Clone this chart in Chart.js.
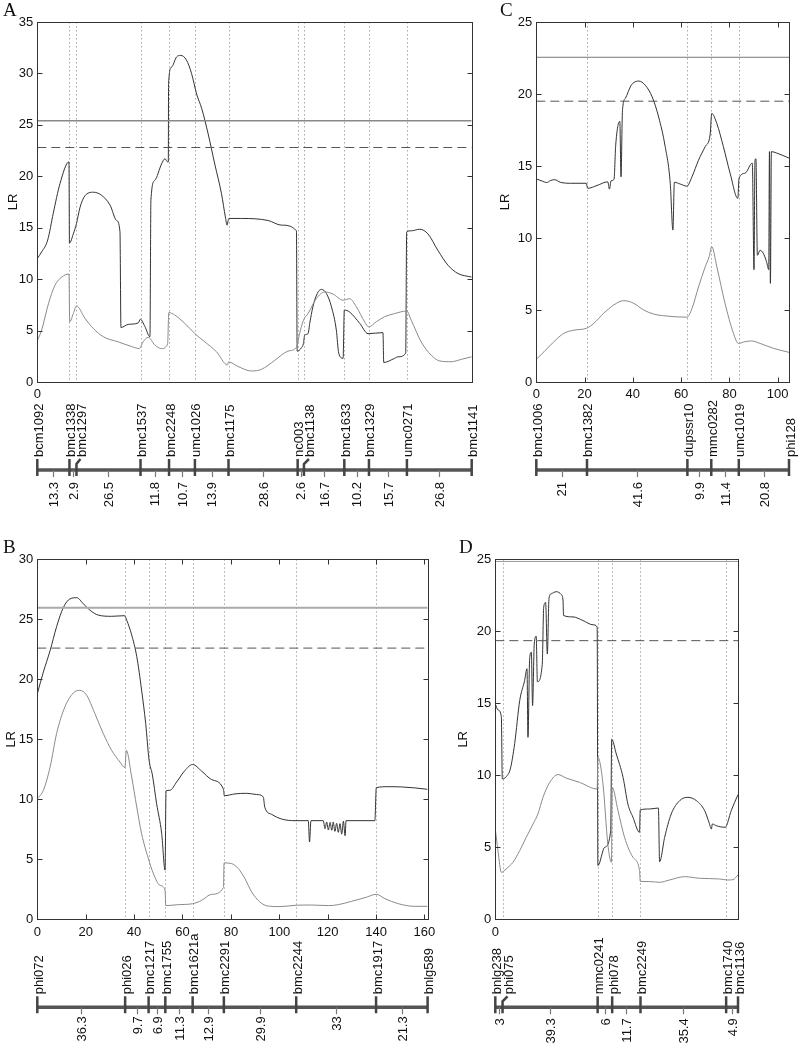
<!DOCTYPE html>
<html>
<head>
<meta charset="utf-8">
<script src="https://cdn.jsdelivr.net/npm/chart.js@4.4.0/dist/chart.umd.min.js"></script>
<style>
  body { margin: 0; background: #fff; width: 800px; height: 1047px; position: relative; overflow: hidden; }
  canvas { position: absolute; }
</style>
</head>
<body>
<canvas id="chartA" width="490" height="510" style="left:0;top:0"></canvas>
<canvas id="chartC" width="310" height="510" style="left:490px;top:0"></canvas>
<canvas id="chartB" width="445" height="510" style="left:0;top:537px"></canvas>
<canvas id="chartD" width="355" height="510" style="left:445px;top:537px"></canvas>
<script>
// --- data: markers, map distances (cM), LR profiles, thresholds [solid, dashed] ---
const markersA = ['bcm1092', 'bmc1338', 'bmc1297', 'bmc1537', 'bmc2248', 'umc1026', 'bmc1175', 'nc003', 'bmc1138', 'bmc1633', 'bmc1329', 'umc0271', 'bmc1141'];
const distA = [13.3, 2.9, 26.5, 11.8, 10.7, 13.9, 28.6, 2.6, 16.7, 10.2, 15.7, 26.8];
const lrA1 = [[0,12.0],[1.8,12.65],[4.3,13.8],[6.6,16.4],[9.4,19.3],[13.1,21.4],[13.3,13.5],[14.9,14.4],[16.2,15.4],[17.7,17.0],[19.7,18.1],[23.2,18.45],[26.6,18.15],[30.1,17.2],[32.8,15.7],[34.2,14.6],[34.6,5.3],[37.6,5.6],[41.8,5.75],[42.6,6.1],[44.5,5.4],[46.6,4.4],[47.0,17.7],[48.6,19.6],[51.4,21.2],[52.8,21.7],[53.9,21.4],[54.2,21.4],[54.3,29.0],[55.5,30.6],[57.6,31.6],[59.3,31.75],[61.7,31.3],[63.8,30.0],[65.9,28.0],[68.0,26.6],[70.7,24.1],[73.4,21.2],[76.2,18.3],[77.8,16.05],[78.5,15.25],[79.2,15.9],[84.5,15.9],[95.5,15.7],[101,15.25],[107.2,14.7],[107.5,3.0],[109.2,3.3],[110.1,3.75],[110.6,4.55],[112,4.7],[112.7,5.7],[114,7.3],[115.8,8.6],[117.5,9.0],[119.6,8.6],[121.7,7.3],[123.7,5.05],[124.7,2.8],[126.5,2.3],[127,7.0],[129.2,6.8],[133.4,5.7],[136.8,4.7],[143,4.8],[143.3,1.9],[147.8,2.3],[149.2,2.45],[152.4,2.8],[152.8,14.6],[154.7,14.7],[158.2,14.85],[161.6,14.4],[165.7,12.8],[169.9,11.35],[174,10.55],[179.7,10.2]];
const lrA2 = [[0,4.0],[1.8,5.05],[4.6,7.6],[7.3,9.4],[10.1,10.2],[13.1,10.5],[13.4,5.85],[14.9,6.65],[16.2,7.4],[19.7,6.2],[23.2,5.2],[27.3,4.4],[33.5,3.9],[39,3.45],[42.2,3.25],[43.8,3.9],[45.9,4.35],[48.6,3.6],[51.4,3.25],[53.9,3.7],[54.4,6.75],[56.9,6.5],[61,5.7],[65.2,4.7],[69.3,3.9],[74.1,2.95],[78.7,1.65],[79.1,1.95],[83.1,1.5],[88.6,1.07],[92.7,1.23],[98.2,2.1],[103.7,3.0],[107.3,3.4],[108.5,4.7],[110.1,6.0],[112,6.65],[115.4,8.1],[118.9,8.75],[122.3,8.55],[126.5,7.95],[129.2,8.1],[132,7.3],[135.4,5.85],[137.1,5.35],[140.2,5.85],[143.7,6.35],[147.8,6.65],[152.8,6.9],[154.7,6.0],[158.8,3.9],[163,2.6],[166.4,2.05],[171.2,1.97],[175.4,2.2],[179.7,2.45]];
const thrA = [25.4, 22.8];

const markersC = ['bmc1006', 'bmc1382', 'dupssr10', 'mmc0282', 'umc1019', 'phi128'];
const distC = [21, 41.6, 9.9, 11.4, 20.8];
const lrC1 = [[0,14.1],[2.5,13.95],[4.3,13.85],[6,14.0],[7.6,14.05],[10,13.87],[14.2,13.8],[20.7,13.8],[21.3,13.45],[25.2,13.65],[29.6,13.9],[30.3,13.4],[31,13.98],[32.2,14.07],[32.9,16.45],[34.6,18.1],[35.1,14.25],[35.7,18.85],[36.9,19.7],[39.3,20.6],[42.4,20.9],[45.2,20.6],[48,19.8],[50.7,18.4],[53.4,16.35],[55.5,13.8],[56.6,10.55],[57.2,13.87],[59.6,13.75],[62.4,13.6],[64.5,14.25],[67.2,15.4],[70,16.35],[72,17.15],[72.7,18.65],[74.8,17.95],[77.5,16.35],[80.3,14.5],[83.5,12.75],[84,14.15],[86.5,14.5],[89.5,15.2],[90.2,7.8],[90.6,15.4],[91,15.5],[91.6,8.8],[92.7,9.15],[94,8.95],[95.4,8.35],[96.3,7.8],[96.6,16.0],[97.0,6.85],[97.4,16.0],[99.6,15.9],[104.7,15.55]];
const lrC2 = [[0,1.57],[3.2,2.1],[7.3,2.8],[11.4,3.38],[15.6,3.6],[20.8,3.73],[23.8,4.07],[27.9,4.77],[32.1,5.35],[36.2,5.65],[40.4,5.46],[44.5,5.0],[48.6,4.72],[54.1,4.58],[62.4,4.5],[64.5,5.1],[67.2,6.6],[70,8.0],[71.6,8.7],[72.7,9.4],[74.8,8.0],[78.2,5.46],[81.7,3.38],[83.7,2.68],[86.5,2.8],[89.3,2.85],[92.7,2.68],[98.2,2.34],[104.7,2.06]];
const thrC = [22.55, 19.5];

const markersB = ['phi072', 'phi026', 'bmc1217', 'bmc1755', 'bmc1621a', 'bmc2291', 'bmc2244', 'bmc1917', 'bnlg589'];
const distB = [36.3, 9.7, 6.9, 11.3, 12.9, 29.9, 33, 21.3];
const lrB1 = [[0,18.8],[2.5,20.6],[5.3,22.4],[8,24.4],[10.8,26.0],[13.5,26.7],[16.3,26.8],[19,26.3],[21.8,25.75],[25.2,25.35],[30.7,25.25],[36,25.3],[37,24.9],[39,23.7],[41.1,21.9],[43.1,19.1],[44.8,16.3],[46.2,13.25],[47.5,12.1],[49.3,9.65],[51.4,7.15],[52.8,4.1],[53.2,10.7],[54.8,10.75],[57.6,11.45],[61,12.4],[64.2,12.9],[67.9,12.35],[72,11.65],[76.9,10.85],[77.3,10.3],[81.7,10.45],[86.5,10.5],[90.6,10.4],[93.4,10.2],[94,9.35],[96.8,8.75],[100.9,8.36],[106.5,8.22],[112,8.22],[112.5,6.45],[113.1,8.22],[118.2,8.22],[118.9,7.55],[119.6,8.11],[120.3,7.44],[121,8.08],[121.7,7.42],[122.3,8.11],[123,7.33],[123.7,8.0],[124.4,7.25],[125.1,7.97],[125.8,7.1],[126.5,8.17],[127.2,6.97],[127.6,8.22],[139.5,8.22],[140.1,10.97],[145,11.05],[150.6,11.03],[156,10.95],[161.3,10.83]];
const lrB2 = [[0,10.05],[2.5,10.75],[5.3,12.7],[8,15.5],[11.4,17.7],[14.9,18.86],[17.6,19.08],[20.4,18.67],[23.8,17.14],[27.3,15.47],[30.7,14.08],[34.2,13.1],[36.2,12.64],[36.8,14.08],[39,11.86],[41.1,9.36],[43.1,7.14],[45.9,5.06],[48,3.8],[50.7,2.83],[52.8,2.42],[53.1,1.14],[58.3,1.22],[64.2,1.3],[67.9,1.58],[72,2.08],[76.9,2.64],[77.2,4.7],[80.3,4.64],[83.1,4.22],[85.8,3.39],[88.6,2.28],[92,1.44],[95.5,1.1],[100.3,1.06],[107,1.17],[113.4,1.19],[120.3,1.14],[124.4,1.22],[129.9,1.5],[135.4,1.8],[140.1,2.08],[143.7,1.72],[149.2,1.3],[156,1.08],[161.3,1.08]];
const thrB = [25.97, 22.6];

const markersD = ['bnlg238', 'phi075', 'mmc0241', 'phi078', 'bmc2249', 'bmc1740', 'bmc1136'];
const distD = [3, 39.3, 6, 11.7, 35.4, 4.9];
const lrD1 = [[0,14.95],[1.1,14.54],[2.5,14.07],[2.9,9.75],[4.5,9.9],[6.2,10.44],[8,12.2],[10.1,15.2],[12.1,16.57],[13.1,17.4],[13.5,12.64],[14.2,18.1],[14.9,18.54],[15.4,14.84],[16.1,19.12],[16.9,19.65],[17.4,16.5],[19.4,17.7],[20,21.67],[20.8,22.0],[21.5,18.43],[22.2,22.3],[23.1,22.6],[25.2,22.75],[27.3,22.55],[28,22.1],[28.2,21.1],[32.1,21.0],[36.2,20.75],[40.4,20.45],[42.1,20.3],[42.4,3.73],[45.2,5.0],[47.7,6.16],[48.1,12.5],[50,11.48],[52.8,9.86],[54.8,8.0],[56.9,7.08],[59.6,6.04],[59.9,7.6],[63.8,7.66],[67.4,7.73],[67.9,4.0],[70,5.7],[72.7,7.31],[76.2,8.24],[79.6,8.47],[83.1,8.24],[86.5,7.55],[88.3,6.74],[89.3,6.27],[89.7,6.62],[91.3,6.5],[95,6.39],[97.5,7.55],[100.3,8.66]];
const lrD2 = [[0,6.27],[1.1,4.77],[2.5,3.26],[4.5,3.5],[7.3,3.96],[10.1,4.77],[12.8,5.7],[15.6,6.62],[17.6,7.31],[19.7,8.47],[22.5,9.51],[25.9,10.05],[29.3,9.81],[34.8,9.51],[42.1,9.05],[42.4,11.25],[44.5,9.4],[46.5,5.23],[48,3.96],[48.3,9.17],[50.7,7.55],[53.4,5.7],[56.9,4.3],[59.6,3.38],[59.9,2.64],[63.8,2.62],[67.9,2.57],[72,2.73],[78.2,2.96],[84.4,2.85],[92.7,2.8],[96.1,2.73],[98.2,2.75],[100.3,3.08]];
const thrD = [24.85, 19.35];

Chart.defaults.font.family = "'Liberation Sans', Arial, sans-serif";
Chart.defaults.font.size = 13;
Chart.defaults.color = '#111';

// marker positions from the map distances
const cum = d => d.reduce((acc, v) => acc.concat(+(acc[acc.length - 1] + v).toFixed(1)), [0]);

// frame, marker guides, panel letter and linkage map under the x axis
const qtlPlugin = {
    id: 'qtl',
    beforeDatasetsDraw(chart, args, o) {
        const { ctx, chartArea: a, scales: { x } } = chart;
        ctx.save();
        ctx.strokeStyle = '#a8a8a8';
        ctx.lineWidth = 1;
        ctx.setLineDash([1.5, 2.5]);
        o.pos.slice(1, -1).forEach(p => {
            const px = Math.round(x.getPixelForValue(p)) + 0.5;
            ctx.beginPath(); ctx.moveTo(px, a.top); ctx.lineTo(px, a.bottom); ctx.stroke();
        });
        ctx.restore();
    },
    afterDatasetsDraw(chart) {
        const { ctx, chartArea: a, scales: { x, y } } = chart;
        ctx.save();
        ctx.strokeStyle = '#333';
        ctx.lineWidth = 1;
        const L = Math.round(a.left) + 0.5, R = Math.round(a.right) + 0.5;
        const T = Math.round(a.top) + 0.5, B = Math.round(a.bottom) + 0.5;
        ctx.strokeRect(L, T, R - L, B - T);
        ctx.beginPath();
        x.ticks.forEach(t => {
            if (t.value % 20 !== 0 || t.value === 0) return;
            const px = Math.round(x.getPixelForValue(t.value)) + 0.5;
            ctx.moveTo(px, T); ctx.lineTo(px, T + 5);
            ctx.moveTo(px, B); ctx.lineTo(px, B - 5);
        });
        y.ticks.forEach(t => {
            if (t.value === 0 || t.value === y.max) return;
            const py = Math.round(y.getPixelForValue(t.value)) + 0.5;
            ctx.moveTo(L, py); ctx.lineTo(L + 5, py);
            ctx.moveTo(R, py); ctx.lineTo(R - 5, py);
        });
        ctx.stroke();
        ctx.restore();
    },
    afterDraw(chart, args, o) {
        const { ctx, chartArea: a, scales: { x } } = chart;
        const ly = a.bottom + 88;
        ctx.save();
        // panel letter
        ctx.fillStyle = '#111';
        ctx.font = "19px 'Liberation Serif', serif";
        ctx.fillText(o.letter, o.lx, 16);
        // map backbone
        ctx.strokeStyle = '#555';
        ctx.lineWidth = 3.5;
        ctx.beginPath();
        ctx.moveTo(x.getPixelForValue(0), ly);
        ctx.lineTo(x.getPixelForValue(o.pos[o.pos.length - 1]), ly);
        ctx.stroke();
        // interval mid ticks
        ctx.strokeStyle = '#777';
        ctx.lineWidth = 1.2;
        ctx.beginPath();
        for (let i = 0; i < o.dist.length; i++) {
            const mx = Math.round(x.getPixelForValue((o.pos[i] + o.pos[i + 1]) / 2)) + 0.5;
            ctx.moveTo(mx, ly); ctx.lineTo(mx, ly + 7);
        }
        ctx.stroke();
        // marker ticks
        ctx.strokeStyle = '#444';
        ctx.lineWidth = 2.5;
        ctx.beginPath();
        o.markers.forEach((m, i) => {
            const px = x.getPixelForValue(o.pos[i]);
            const sh = o.shift[m] || 0;
            ctx.moveTo(px, ly + 6);
            if (sh) { ctx.lineTo(px, ly - 6); ctx.lineTo(px + sh, ly - 11); }
            else ctx.lineTo(px, ly - 11);
        });
        ctx.stroke();
        // labels
        ctx.fillStyle = '#111';
        ctx.font = "13px 'Liberation Sans', Arial, sans-serif";
        ctx.textBaseline = 'alphabetic';
        o.markers.forEach((m, i) => {
            const px = x.getPixelForValue(o.pos[i]) + (o.shift[m] || 0);
            ctx.save();
            ctx.translate(px + 5.5, ly - 13);
            ctx.rotate(-Math.PI / 2);
            ctx.textAlign = 'left';
            ctx.fillText(m, 0, 0);
            ctx.restore();
        });
        o.dist.forEach((d, i) => {
            const mx = x.getPixelForValue((o.pos[i] + o.pos[i + 1]) / 2);
            ctx.save();
            ctx.translate(mx + 4.7, ly + o.gap);
            ctx.rotate(-Math.PI / 2);
            ctx.textAlign = 'right';
            ctx.fillText(String(d), 0, 0);
            ctx.restore();
        });
        ctx.restore();
    }
};

function curve(pts, color) {
    return { data: pts, showLine: true, borderColor: color, borderWidth: 1, pointRadius: 0, cubicInterpolationMode: 'monotone' };
}
function level(v, xMax, color, dash, w) {
    return { data: [[0, v], [xMax, v]], showLine: true, borderColor: color, borderWidth: w, borderDash: dash, pointRadius: 0 };
}

function panel(id, p) {
    const pos = cum(p.dist);
    const xMax = pos[pos.length - 1];
    const canvas = document.getElementById(id);
    const H = canvas.height;
    new Chart(canvas, {
        type: 'scatter',
        data: {
            datasets: [
                level(p.thr[0], xMax, p.solidColor, [], p.solidWidth),
                level(p.thr[1], xMax, '#555', [9, 5], 1),
                curve(p.gray, '#8a8a8a'),
                curve(p.dark, '#333')
            ]
        },
        options: {
            responsive: false,
            animation: false,
            events: [],
            layout: { padding: { top: p.top, right: canvas.width - p.right, left: 0, bottom: 0 } },
            scales: {
                x: {
                    type: 'linear', min: 0, max: xMax,
                    grid: { display: false, drawTicks: false }, border: { display: false },
                    ticks: { stepSize: 20, includeBounds: false, padding: 5, maxRotation: 0,
                             callback: v => (v % 20 === 0 ? v : '') },
                    afterFit: s => { s.height = H - p.bottom; }
                },
                y: {
                    min: 0, max: p.yMax,
                    grid: { display: false, drawTicks: false }, border: { display: false },
                    ticks: { stepSize: 5, padding: 4 },
                    title: { display: true, text: 'LR', padding: { top: p.titlePad, bottom: 0 } },
                    afterFit: s => { s.width = p.left; }
                }
            },
            plugins: {
                legend: { display: false },
                tooltip: { enabled: false },
                qtl: { letter: p.letter, lx: p.lx, markers: p.markers, dist: p.dist, pos: pos, shift: p.shift, gap: p.gap }
            }
        },
        plugins: [qtlPlugin]
    });
}

panel('chartA', { letter: 'A', lx: 3, markers: markersA, dist: distA, dark: lrA1, gray: lrA2, thr: thrA,
    yMax: 35, top: 22, left: 37.3, right: 471.7, bottom: 382, titlePad: 6, gap: 12,
    solidColor: '#888', solidWidth: 1.3, shift: { bmc1297: 4, bmc1138: 5 } });
panel('chartC', { letter: 'C', lx: 10, markers: markersC, dist: distC, dark: lrC1, gray: lrC2, thr: thrC,
    yMax: 25, top: 22, left: 46.3, right: 299, bottom: 382, titlePad: 8, gap: 12,
    solidColor: '#777', solidWidth: 1, shift: {} });
panel('chartB', { letter: 'B', lx: 3, markers: markersB, dist: distB, dark: lrB1, gray: lrB2, thr: thrB,
    yMax: 30, top: 22.3, left: 37.3, right: 427.6, bottom: 382.3, titlePad: 4, gap: 9,
    solidColor: '#aaa', solidWidth: 2, shift: {} });
panel('chartD', { letter: 'D', lx: 14, markers: markersD, dist: distD, dark: lrD1, gray: lrD2, thr: thrD,
    yMax: 25, top: 22.3, left: 50.3, right: 293, bottom: 382.3, titlePad: 11, gap: 11,
    solidColor: '#999', solidWidth: 1, shift: { phi075: 5 } });
</script>
</body>
</html>
